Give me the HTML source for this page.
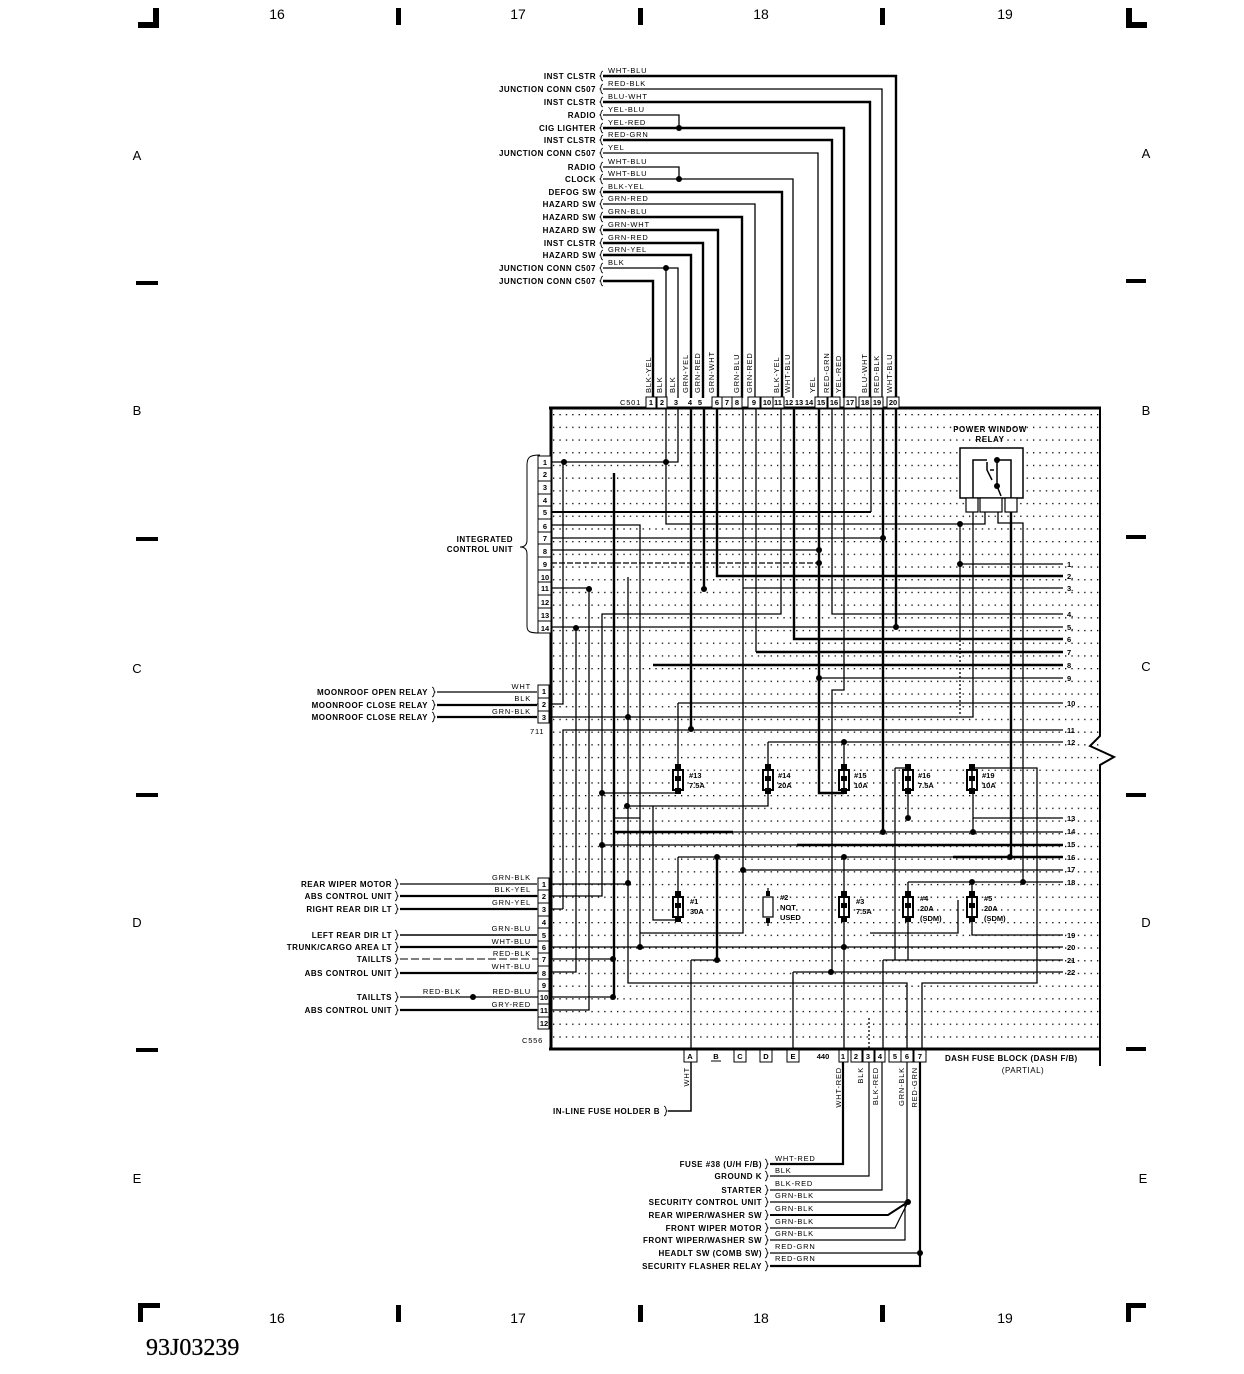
<!DOCTYPE html>
<html><head><meta charset="utf-8"><style>
html,body{margin:0;padding:0;background:#fff;}
svg{display:block}
.l{font-family:"Liberation Sans",sans-serif;font-weight:bold;font-size:8px;letter-spacing:0.5px;fill:#000}
.w{font-family:"Liberation Sans",sans-serif;font-size:7.5px;letter-spacing:0.8px;fill:#000}
.n{font-family:"Liberation Sans",sans-serif;font-weight:bold;font-size:7.5px;fill:#000}
.g{font-family:"Liberation Sans",sans-serif;font-size:14px;fill:#000}
</style></head><body>
<svg width="1244" height="1374" viewBox="0 0 1244 1374" xmlns="http://www.w3.org/2000/svg">
<defs>
<pattern id="dp" x="553" y="414" width="6.4" height="12.7" patternUnits="userSpaceOnUse"><rect width="1.3" height="1.3" fill="#000"/></pattern>
<path id="sq" d="M2,-5 C-1,-4 1,-1 -1,0 C1,1 -1,4 2,5" fill="none" stroke="#000" stroke-width="0.9"/>
<path id="sqb" d="M-2,-5 C1,-4 -1,-1 1,0 C-1,1 1,4 -2,5" fill="none" stroke="#000" stroke-width="0.9"/>
</defs>
<rect width="1244" height="1374" fill="#fff"/>
<rect x="553" y="410" width="546" height="638" fill="url(#dp)"/>

<!-- frame marks -->
<g fill="#000">
<rect x="153" y="8" width="6" height="20"/><rect x="138" y="22" width="21" height="6"/>
<rect x="1126" y="8" width="6" height="20"/><rect x="1126" y="22" width="21" height="6"/>
<rect x="396" y="8" width="5" height="17"/><rect x="638" y="8" width="5" height="17"/><rect x="880" y="8" width="5" height="17"/>
<rect x="138" y="1303" width="22" height="5"/><rect x="138" y="1303" width="5" height="19"/>
<rect x="1126" y="1303" width="20" height="5"/><rect x="1126" y="1303" width="5" height="19"/>
<rect x="396" y="1305" width="5" height="17"/><rect x="638" y="1305" width="5" height="17"/><rect x="880" y="1305" width="5" height="17"/>
<rect x="136" y="281" width="22" height="4"/><rect x="136" y="537" width="22" height="4"/><rect x="136" y="793" width="22" height="4"/><rect x="136" y="1048" width="22" height="4"/>
<rect x="1126" y="279" width="20" height="4"/><rect x="1126" y="535" width="20" height="4"/><rect x="1126" y="793" width="20" height="4"/><rect x="1126" y="1047" width="20" height="4"/>
</g>
<g class="g" text-anchor="middle">
<text x="277" y="19">16</text><text x="518" y="19">17</text><text x="761" y="19">18</text><text x="1005" y="19">19</text>
<text x="277" y="1323">16</text><text x="518" y="1323">17</text><text x="761" y="1323">18</text><text x="1005" y="1323">19</text>
<text x="137" y="160" font-size="13">A</text><text x="137" y="415" font-size="13">B</text><text x="137" y="673" font-size="13">C</text><text x="137" y="927" font-size="13">D</text><text x="137" y="1183" font-size="13">E</text>
<text x="1146" y="158" font-size="13">A</text><text x="1146" y="415" font-size="13">B</text><text x="1146" y="671" font-size="13">C</text><text x="1146" y="927" font-size="13">D</text><text x="1143" y="1183" font-size="13">E</text>
</g>
<text x="146" y="1355" font-family="'Liberation Serif',serif" font-size="24" fill="#000" stroke="#000" stroke-width="0.3">93J03239</text>

<!-- main box -->
<g fill="none" stroke="#000">
<path d="M551 407 V1050 M549 408 H1101 M549 1049 H1101" stroke-width="3"/>
<path d="M1100 408 V736 L1090 746 L1114 757 L1100 765 V1066" stroke-width="2"/>
</g>

<!-- top wires -->
<g fill="none" stroke="#000" stroke-width="2.4">
<path d="M603 76 H896 V398"/>
<path d="M603 102 H870 V398"/>
<path d="M603 128 H844 V398"/>
<path d="M603 140 H832 V398"/>
<path d="M603 192 H782 V398"/>
<path d="M603 217 H742 V398"/>
<path d="M603 230 H718 V398"/>
<path d="M603 243 H703 V398"/>
<path d="M603 255 H691 V398"/>
<path d="M603 281 H653 V398"/>
</g>
<g fill="none" stroke="#000" stroke-width="1.3">
<path d="M603 89 H882 V398"/>
<path d="M603 115 H679 V128"/>
<path d="M603 153 H818 V398"/>
<path d="M603 167 H679 V179"/>
<path d="M603 179 H793 V398"/>
<path d="M603 204 H755 V398"/>
<path d="M603 268 H678 V398 M666 268 V398"/>
</g>
<g fill="#000"><circle cx="679" cy="128" r="3"/><circle cx="679" cy="179" r="3"/><circle cx="666" cy="268" r="3"/></g>
<g>
<use href="#sq" x="601" y="76"/><use href="#sq" x="601" y="89"/><use href="#sq" x="601" y="102"/><use href="#sq" x="601" y="115"/><use href="#sq" x="601" y="128"/><use href="#sq" x="601" y="140"/><use href="#sq" x="601" y="153"/><use href="#sq" x="601" y="167"/><use href="#sq" x="601" y="179"/><use href="#sq" x="601" y="192"/><use href="#sq" x="601" y="204"/><use href="#sq" x="601" y="217"/><use href="#sq" x="601" y="230"/><use href="#sq" x="601" y="243"/><use href="#sq" x="601" y="255"/><use href="#sq" x="601" y="268"/><use href="#sq" x="601" y="281"/>
</g>
<g class="l" text-anchor="end">
<text x="596" y="79">INST CLSTR</text>
<text x="596" y="92">JUNCTION CONN C507</text>
<text x="596" y="105">INST CLSTR</text>
<text x="596" y="118">RADIO</text>
<text x="596" y="131">CIG LIGHTER</text>
<text x="596" y="143">INST CLSTR</text>
<text x="596" y="156">JUNCTION CONN C507</text>
<text x="596" y="170">RADIO</text>
<text x="596" y="182">CLOCK</text>
<text x="596" y="195">DEFOG SW</text>
<text x="596" y="207">HAZARD SW</text>
<text x="596" y="220">HAZARD SW</text>
<text x="596" y="233">HAZARD SW</text>
<text x="596" y="246">INST CLSTR</text>
<text x="596" y="258">HAZARD SW</text>
<text x="596" y="271">JUNCTION CONN C507</text>
<text x="596" y="284">JUNCTION CONN C507</text>
</g>
<g class="w">
<text x="608" y="73">WHT-BLU</text>
<text x="608" y="86">RED-BLK</text>
<text x="608" y="99">BLU-WHT</text>
<text x="608" y="112">YEL-BLU</text>
<text x="608" y="125">YEL-RED</text>
<text x="608" y="137">RED-GRN</text>
<text x="608" y="150">YEL</text>
<text x="608" y="164">WHT-BLU</text>
<text x="608" y="176">WHT-BLU</text>
<text x="608" y="189">BLK-YEL</text>
<text x="608" y="201">GRN-RED</text>
<text x="608" y="214">GRN-BLU</text>
<text x="608" y="227">GRN-WHT</text>
<text x="608" y="240">GRN-RED</text>
<text x="608" y="252">GRN-YEL</text>
<text x="608" y="265">BLK</text>
</g>
<!-- C501 vertical labels -->
<g class="w">
<text transform="translate(651,393) rotate(-90)">BLK-YEL</text>
<text transform="translate(662,393) rotate(-90)">BLK</text>
<text transform="translate(675,393) rotate(-90)">BLK</text>
<text transform="translate(688,393) rotate(-90)">GRN-YEL</text>
<text transform="translate(700,393) rotate(-90)">GRN-RED</text>
<text transform="translate(714,393) rotate(-90)">GRN-WHT</text>
<text transform="translate(739,393) rotate(-90)">GRN-BLU</text>
<text transform="translate(752,393) rotate(-90)">GRN-RED</text>
<text transform="translate(779,393) rotate(-90)">BLK-YEL</text>
<text transform="translate(790,393) rotate(-90)">WHT-BLU</text>
<text transform="translate(815,393) rotate(-90)">YEL</text>
<text transform="translate(829,393) rotate(-90)">RED-GRN</text>
<text transform="translate(841,393) rotate(-90)">YEL-RED</text>
<text transform="translate(867,393) rotate(-90)">BLU-WHT</text>
<text transform="translate(879,393) rotate(-90)">RED-BLK</text>
<text transform="translate(892,393) rotate(-90)">WHT-BLU</text>
</g>
<!-- C501 pin boxes -->
<g fill="#fff" stroke="#000" stroke-width="1">
<rect x="646" y="397" width="10" height="11"/><rect x="657" y="397" width="10" height="11"/>
<rect x="712" y="397" width="10" height="11"/><rect x="722" y="397" width="10" height="11"/><rect x="732" y="397" width="10" height="11"/>
<rect x="748" y="397" width="12" height="11"/><rect x="761" y="397" width="12" height="11"/><rect x="773" y="397" width="11" height="11"/>
<rect x="815" y="397" width="12" height="11"/><rect x="828" y="397" width="12" height="11"/><rect x="844" y="397" width="12" height="11"/><rect x="859" y="397" width="12" height="11"/><rect x="871" y="397" width="12" height="11"/><rect x="887" y="397" width="12" height="11"/>
</g>
<g class="n" text-anchor="middle" font-size="7">
<text x="651" y="405">1</text><text x="662" y="405">2</text><text x="676" y="405">3</text><text x="690" y="405">4</text><text x="700" y="405">5</text><text x="717" y="405">6</text><text x="727" y="405">7</text><text x="737" y="405">8</text><text x="754" y="405">9</text><text x="767" y="405">10</text><text x="778" y="405">11</text><text x="789" y="405">12</text><text x="799" y="405">13</text><text x="809" y="405">14</text><text x="821" y="405">15</text><text x="834" y="405">16</text><text x="850" y="405">17</text><text x="865" y="405">18</text><text x="877" y="405">19</text><text x="893" y="405">20</text>
</g>
<text class="w" x="620" y="405" letter-spacing="0.3">C501</text>

<!-- internal wiring thick -->
<g fill="none" stroke="#000" stroke-width="2.4">
<path d="M691 408 V729"/>
<path d="M704 408 V589"/>
<path d="M717 408 V576 H1063"/>
<path d="M756 652 H1063"/>
<path d="M794 408 V639 H1063"/>
<path d="M819 408 V793 H844"/>
<path d="M883 408 V832"/>
<path d="M896 408 V627"/>
<path d="M614 473 V997"/>
<path d="M1011 512 V857"/>
<path d="M653 665 H1063"/>
<path d="M614 832 H733"/>
<path d="M797 845 H1063"/>
<path d="M953 857 H1063"/>
<path d="M717 857 V960"/>
<path d="M551 512 H871" stroke-width="2"/>
</g>
<g fill="none" stroke="#000" stroke-width="1.3">
<path d="M678 408 V462 H551"/>
<path d="M666 408 V524 H985 V512"/>
<path d="M563 462 V704 H537"/>
<path d="M563 909 V730 H1063"/>
<path d="M537 909 H563"/>
<path d="M743 408 V933 H640"/>
<path d="M743 588 H1063"/>
<path d="M756 408 V652"/>
<path d="M781 408 V614 H602 V896 H537"/>
<path d="M832 408 V614 H1063"/>
<path d="M844 408 V690 H832 V972"/>
<path d="M871 408 V512"/>
<path d="M551 627 H1063"/>
<path d="M551 538 H883"/>
<path d="M551 550 H819"/>
<path d="M551 563 H819" stroke-dasharray="6 2"/>
<path d="M551 588 H589 V1010 H537"/>
<path d="M551 525 H640 V947"/>
<path d="M576 628 V972 H537"/>
<path d="M537 959 H613"/>
<path d="M537 997 H613"/>
<path d="M628 577 V983 H907 V1049"/>
<path d="M922 1049 V983 H1037 V768 H973"/>
<path d="M551 717 H973 V512"/>
<path d="M960 524 V640"/>
<path d="M960 640 V715" stroke-dasharray="2 2"/>
<path d="M960 564 H1063"/>
<path d="M998 512 V523 H1023 V882"/>
<path d="M678 703 H1063"/>
<path d="M678 703 V768 M678 792 V793 H602"/>
<path d="M768 742 H1063 M768 742 V768 M768 792 V806 H627"/>
<path d="M844 742 V768"/>
<path d="M819 678 H1063"/>
<path d="M653 806 V920 H678" />
<path d="M614 818 H640"/>
<path d="M733 832 H1063"/>
<path d="M602 845 H797"/>
<path d="M678 857 H953"/>
<path d="M743 870 H1063"/>
<path d="M908 882 H1063"/>
<path d="M972 882 V893 M908 882 V893"/>
<path d="M973 818 H1063"/>
<path d="M973 792 V832"/>
<path d="M908 792 V818"/>
<path d="M895 768 H908 M895 768 V960 M908 768 V768"/>
<path d="M691 960 H717 M691 960 V1049"/>
<path d="M883 960 H1063 M883 960 V1049"/>
<path d="M908 920 V960"/>
<path d="M972 920 V935 H1063"/>
<path d="M870 933 H958 V900"/>
<path d="M537 947 H1063"/>
<path d="M793 972 H1063 M793 972 V1049"/>
<path d="M869 1018 V1049" stroke-dasharray="2 2"/>
<path d="M844 857 V1049"/>
<path d="M678 857 V893"/>
<path d="M551 884 H628"/>
<path d="M768 888 V893 M768 921 V926"/>
</g>

<!-- power window relay -->
<g fill="none" stroke="#000" stroke-width="1.5">
<rect x="960" y="448" width="63" height="50" fill="#fff"/>
<path d="M973 498 V460 H987 M1011 498 V460 H997 V486 M987 462 V470 L992 480 M990 470 H994 M997 486 L1001 496"/>
<path d="M985 498 V512 M998 498 V512"/>
</g>
<g fill="#fff" stroke="#000" stroke-width="1.2">
<rect x="966" y="498" width="12" height="14"/><rect x="980" y="498" width="22" height="14"/><rect x="1005" y="498" width="12" height="14"/>
</g>
<g class="l" text-anchor="middle" font-size="7.5"><text x="990" y="432">POWER WINDOW</text><text x="990" y="442">RELAY</text></g>

<!-- fuses -->
<g stroke="#000" stroke-width="2" fill="#fff">
<rect x="673" y="770" width="10" height="20"/><rect x="763" y="770" width="10" height="20"/><rect x="839" y="770" width="10" height="20"/><rect x="903" y="770" width="10" height="20"/><rect x="967" y="770" width="10" height="20"/>
<rect x="673" y="897" width="10" height="20"/><rect x="839" y="897" width="10" height="20"/><rect x="903" y="897" width="10" height="20"/><rect x="967" y="897" width="10" height="20"/>
</g>
<rect x="763" y="897" width="10" height="20" fill="#fff" stroke="#000" stroke-width="1.2"/>
<g stroke="#000" stroke-width="1.6">
<path d="M678 768 V792 M768 768 V792 M844 768 V792 M908 768 V792 M972 768 V792"/>
<path d="M678 893 V920 M844 893 V920 M908 893 V920 M972 893 V920"/>
</g>
<g fill="#000">
<rect x="675" y="764" width="6" height="6"/><rect x="675" y="788" width="6" height="6"/><rect x="675" y="776" width="6" height="5"/>
<rect x="765" y="764" width="6" height="6"/><rect x="765" y="788" width="6" height="6"/><rect x="765" y="776" width="6" height="5"/>
<rect x="841" y="764" width="6" height="6"/><rect x="841" y="788" width="6" height="6"/><rect x="841" y="776" width="6" height="5"/>
<rect x="905" y="764" width="6" height="6"/><rect x="905" y="788" width="6" height="6"/><rect x="905" y="776" width="6" height="5"/>
<rect x="969" y="764" width="6" height="6"/><rect x="969" y="788" width="6" height="6"/><rect x="969" y="776" width="6" height="5"/>
<rect x="675" y="891" width="6" height="6"/><rect x="675" y="916" width="6" height="6"/><rect x="675" y="903" width="6" height="5"/>
<rect x="766" y="891" width="4" height="5"/><rect x="766" y="918" width="4" height="5"/>
<rect x="841" y="891" width="6" height="6"/><rect x="841" y="916" width="6" height="6"/><rect x="841" y="903" width="6" height="5"/>
<rect x="905" y="891" width="6" height="6"/><rect x="905" y="916" width="6" height="6"/><rect x="905" y="903" width="6" height="5"/>
<rect x="969" y="891" width="6" height="6"/><rect x="969" y="916" width="6" height="6"/><rect x="969" y="903" width="6" height="5"/>
</g>
<g class="n">
<text x="689" y="778">#13</text><text x="689" y="788">7.5A</text>
<text x="778" y="778">#14</text><text x="778" y="788">20A</text>
<text x="854" y="778">#15</text><text x="854" y="788">10A</text>
<text x="918" y="778">#16</text><text x="918" y="788">7.5A</text>
<text x="982" y="778">#19</text><text x="982" y="788">10A</text>
<text x="690" y="904">#1</text><text x="690" y="914">30A</text>
<text x="780" y="900">#2</text><text x="780" y="910">NOT</text><text x="780" y="920">USED</text>
<text x="856" y="904">#3</text><text x="856" y="914">7.5A</text>
<text x="920" y="901">#4</text><text x="920" y="911">20A</text><text x="920" y="921">(SDM)</text>
<text x="984" y="901">#5</text><text x="984" y="911">20A</text><text x="984" y="921">(SDM)</text>
</g>

<!-- junction dots -->
<g fill="#000">
<circle cx="564" cy="462" r="3"/><circle cx="666" cy="462" r="3"/><circle cx="691" cy="729" r="3"/><circle cx="704" cy="589" r="3"/>
<circle cx="819" cy="550" r="3"/><circle cx="819" cy="563" r="3"/><circle cx="819" cy="678" r="3"/><circle cx="883" cy="538" r="3"/>
<circle cx="896" cy="627" r="3"/><circle cx="576" cy="628" r="3"/><circle cx="589" cy="589" r="3"/><circle cx="960" cy="524" r="3"/>
<circle cx="960" cy="564" r="3"/><circle cx="602" cy="793" r="3"/><circle cx="602" cy="845" r="3"/><circle cx="628" cy="717" r="3"/>
<circle cx="627" cy="806" r="3"/><circle cx="628" cy="883" r="3"/><circle cx="844" cy="742" r="3"/><circle cx="883" cy="832" r="3"/>
<circle cx="973" cy="832" r="3"/><circle cx="717" cy="857" r="3"/><circle cx="844" cy="857" r="3"/><circle cx="1010" cy="857" r="3"/>
<circle cx="743" cy="870" r="3"/><circle cx="972" cy="882" r="3"/><circle cx="1023" cy="882" r="3"/><circle cx="908" cy="818" r="3"/>
<circle cx="640" cy="947" r="3"/><circle cx="844" cy="947" r="3"/><circle cx="613" cy="959" r="3"/><circle cx="613" cy="997" r="3"/>
<circle cx="717" cy="960" r="3"/><circle cx="831" cy="972" r="3"/>
<circle cx="997" cy="460" r="3"/><circle cx="997" cy="486" r="3"/>
<circle cx="473" cy="997" r="3"/><circle cx="908" cy="1202" r="3"/><circle cx="920" cy="1253" r="3"/>
</g>

<!-- right side numbers -->
<g class="n" font-size="8">
<text x="1067" y="567">1.</text><text x="1067" y="579">2.</text><text x="1067" y="591">3.</text><text x="1067" y="617">4.</text><text x="1067" y="630">5.</text><text x="1067" y="642">6</text><text x="1067" y="655">7</text><text x="1067" y="668">8</text><text x="1067" y="681">9</text><text x="1067" y="706">10</text><text x="1067" y="733">11</text><text x="1067" y="745">12</text>
<text x="1067" y="821">13</text><text x="1067" y="834">14</text><text x="1067" y="847">15</text><text x="1067" y="860">16</text><text x="1067" y="872">17</text><text x="1067" y="885">18</text><text x="1067" y="938">19</text><text x="1067" y="950">20</text><text x="1067" y="963">21</text><text x="1067" y="975">22</text>
</g>

<!-- ICU pins -->
<g fill="#fff" stroke="#000" stroke-width="1">
<rect x="538" y="456" width="13" height="12"/><rect x="538" y="468" width="13" height="13"/><rect x="538" y="481" width="13" height="13"/><rect x="538" y="494" width="13" height="12"/><rect x="538" y="506" width="13" height="13"/><rect x="538" y="519" width="13" height="13"/><rect x="538" y="532" width="13" height="12"/><rect x="538" y="544" width="13" height="13"/><rect x="538" y="557" width="13" height="13"/><rect x="538" y="570" width="13" height="12"/><rect x="538" y="582" width="13" height="13"/><rect x="538" y="595" width="13" height="13"/><rect x="538" y="608" width="13" height="13"/><rect x="538" y="621" width="13" height="12"/>
</g>
<g class="n" text-anchor="middle" font-size="7">
<text x="545" y="465">1</text><text x="545" y="477">2</text><text x="545" y="490">3</text><text x="545" y="503">4</text><text x="545" y="515">5</text><text x="545" y="529">6</text><text x="545" y="541">7</text><text x="545" y="554">8</text><text x="545" y="567">9</text><text x="545" y="580">10</text><text x="545" y="591">11</text><text x="545" y="605">12</text><text x="545" y="618">13</text><text x="545" y="631">14</text>
</g>
<path d="M540 455 C530 455 527 457 527 465 V540 C527 545 524 547 520 547 C524 547 527 549 527 554 V626 C527 632 530 633 540 633" fill="none" stroke="#000" stroke-width="1"/>
<g class="l" text-anchor="end"><text x="513" y="542">INTEGRATED</text><text x="513" y="552">CONTROL UNIT</text></g>

<!-- moonroof connector -->
<g fill="none" stroke="#000">
<path d="M437 692 H537" stroke-width="1.2"/>
<path d="M437 705 H537" stroke-width="2.2"/>
<path d="M437 717 H537" stroke-width="2.2"/>
</g>
<use href="#sqb" x="434" y="692"/><use href="#sqb" x="434" y="705"/><use href="#sqb" x="434" y="717"/>
<g fill="#fff" stroke="#000" stroke-width="1"><rect x="538" y="685" width="11" height="13"/><rect x="538" y="698" width="11" height="13"/><rect x="538" y="711" width="11" height="12"/></g>
<g class="n" text-anchor="middle" font-size="7"><text x="544" y="694">1</text><text x="544" y="707">2</text><text x="544" y="720">3</text></g>
<g class="l" text-anchor="end">
<text x="428" y="695">MOONROOF OPEN RELAY</text><text x="428" y="708">MOONROOF CLOSE RELAY</text><text x="428" y="720">MOONROOF CLOSE RELAY</text>
</g>
<g class="w" text-anchor="end" letter-spacing="0.5"><text x="531" y="689">WHT</text><text x="531" y="701">BLK</text><text x="531" y="714">GRN-BLK</text></g>
<text class="w" x="530" y="734" letter-spacing="0.3">711</text>

<!-- C556 -->
<g fill="none" stroke="#000">
<path d="M400 884 H537" stroke-width="1.2"/>
<path d="M400 896 H537" stroke-width="2.2"/>
<path d="M400 909 H537" stroke-width="2.2"/>
<path d="M400 935 H537" stroke-width="1.6"/>
<path d="M400 947 H537" stroke-width="2.2"/>
<path d="M400 959 H537" stroke-width="1.1" stroke-dasharray="8 3"/>
<path d="M400 973 H537" stroke-width="2.2"/>
<path d="M400 997 H537" stroke-width="1.2"/>
<path d="M400 1010 H537" stroke-width="2.2"/>
</g>
<use href="#sqb" x="397" y="884"/><use href="#sqb" x="397" y="896"/><use href="#sqb" x="397" y="909"/><use href="#sqb" x="397" y="935"/><use href="#sqb" x="397" y="947"/><use href="#sqb" x="397" y="959"/><use href="#sqb" x="397" y="973"/><use href="#sqb" x="397" y="997"/><use href="#sqb" x="397" y="1010"/>
<g fill="#fff" stroke="#000" stroke-width="1">
<rect x="538" y="878" width="11" height="12"/><rect x="538" y="890" width="11" height="13"/><rect x="538" y="903" width="11" height="13"/><rect x="538" y="916" width="11" height="12"/><rect x="538" y="928" width="11" height="13"/><rect x="538" y="941" width="11" height="12"/><rect x="538" y="953" width="11" height="13"/><rect x="538" y="966" width="11" height="13"/><rect x="538" y="979" width="11" height="12"/><rect x="538" y="991" width="11" height="13"/><rect x="538" y="1004" width="11" height="13"/><rect x="538" y="1017" width="11" height="12"/>
</g>
<g class="n" text-anchor="middle" font-size="7">
<text x="544" y="887">1</text><text x="544" y="899">2</text><text x="544" y="912">3</text><text x="544" y="925">4</text><text x="544" y="938">5</text><text x="544" y="950">6</text><text x="544" y="962">7</text><text x="544" y="976">8</text><text x="544" y="988">9</text><text x="544" y="1000">10</text><text x="544" y="1013">11</text><text x="544" y="1026">12</text>
</g>
<g class="l" text-anchor="end">
<text x="392" y="887">REAR WIPER MOTOR</text>
<text x="392" y="899">ABS CONTROL UNIT</text>
<text x="392" y="912">RIGHT REAR DIR LT</text>
<text x="392" y="938">LEFT REAR DIR LT</text>
<text x="392" y="950">TRUNK/CARGO AREA LT</text>
<text x="392" y="962">TAILLTS</text>
<text x="392" y="976">ABS CONTROL UNIT</text>
<text x="392" y="1000">TAILLTS</text>
<text x="392" y="1013">ABS CONTROL UNIT</text>
</g>
<g class="w" text-anchor="end" letter-spacing="0.5">
<text x="531" y="880">GRN-BLK</text><text x="531" y="892">BLK-YEL</text><text x="531" y="905">GRN-YEL</text><text x="531" y="931">GRN-BLU</text><text x="531" y="944">WHT-BLU</text><text x="531" y="956">RED-BLK</text><text x="531" y="969">WHT-BLU</text><text x="531" y="994">RED-BLU</text><text x="531" y="1007">GRY-RED</text>
<text x="461" y="994">RED-BLK</text>
</g>
<text class="w" x="522" y="1043" letter-spacing="0.3">C556</text>

<!-- dash F/B bottom connector -->
<g fill="#fff" stroke="#000" stroke-width="1">
<rect x="684" y="1050" width="13" height="12"/><rect x="734" y="1050" width="12" height="12"/><rect x="760" y="1050" width="12" height="12"/><rect x="787" y="1050" width="12" height="12"/>
<rect x="839" y="1050" width="9" height="12"/><rect x="851" y="1050" width="11" height="12"/><rect x="863" y="1050" width="11" height="12"/><rect x="875" y="1050" width="10" height="12"/><rect x="889" y="1050" width="12" height="12"/><rect x="901" y="1050" width="12" height="12"/><rect x="914" y="1050" width="12" height="12"/>
</g>
<path d="M711 1061 H721" stroke="#000" stroke-width="1"/>
<g class="n" text-anchor="middle" font-size="7">
<text x="690" y="1059">A</text><text x="716" y="1059">B</text><text x="740" y="1059">C</text><text x="766" y="1059">D</text><text x="793" y="1059">E</text><text x="823" y="1059">440</text>
<text x="843" y="1059">1</text><text x="856" y="1059">2</text><text x="868" y="1059">3</text><text x="880" y="1059">4</text><text x="895" y="1059">5</text><text x="907" y="1059">6</text><text x="920" y="1059">7</text>
</g>
<g class="l"><text x="945" y="1061" letter-spacing="0.4">DASH FUSE BLOCK (DASH F/B)</text><text x="1023" y="1073" text-anchor="middle" font-weight="normal">(PARTIAL)</text></g>
<g fill="none" stroke="#000">
<path d="M691 1062 V1111 H668" stroke-width="1.5"/>
<path d="M843 1062 V1164 H770" stroke-width="2.2"/>
<path d="M869 1062 V1176 H770" stroke-width="1.2"/>
<path d="M882 1062 V1190 H770" stroke-width="1.2"/>
<path d="M907 1062 V1202 H770" stroke-width="1.2"/>
<path d="M770 1215 H888 L908 1202" stroke-width="2"/>
<path d="M770 1228 H895 L908 1202" stroke-width="1.2"/>
<path d="M770 1240 H905 V1202" stroke-width="1.2"/>
<path d="M770 1253 H920" stroke-width="1.2"/>
<path d="M920 1062 V1266 H770" stroke-width="2.2"/>
</g>
<use href="#sqb" x="666" y="1111"/>
<use href="#sqb" x="767" y="1164"/><use href="#sqb" x="767" y="1176"/><use href="#sqb" x="767" y="1190"/><use href="#sqb" x="767" y="1202"/><use href="#sqb" x="767" y="1215"/><use href="#sqb" x="767" y="1228"/><use href="#sqb" x="767" y="1240"/><use href="#sqb" x="767" y="1253"/><use href="#sqb" x="767" y="1266"/>
<g class="w">
<text transform="translate(689,1067) rotate(-90)" text-anchor="end">WHT</text>
<text transform="translate(841,1067) rotate(-90)" text-anchor="end">WHT-RED</text>
<text transform="translate(863,1067) rotate(-90)" text-anchor="end">BLK</text>
<text transform="translate(878,1067) rotate(-90)" text-anchor="end">BLK-RED</text>
<text transform="translate(904,1067) rotate(-90)" text-anchor="end">GRN-BLK</text>
<text transform="translate(917,1067) rotate(-90)" text-anchor="end">RED-GRN</text>
</g>
<text class="l" x="660" y="1114" text-anchor="end" font-weight="normal">IN-LINE FUSE HOLDER B</text>
<g class="l" text-anchor="end">
<text x="762" y="1167">FUSE #38 (U/H F/B)</text>
<text x="762" y="1179">GROUND K</text>
<text x="762" y="1193">STARTER</text>
<text x="762" y="1205">SECURITY CONTROL UNIT</text>
<text x="762" y="1218">REAR WIPER/WASHER SW</text>
<text x="762" y="1231">FRONT WIPER MOTOR</text>
<text x="762" y="1243">FRONT WIPER/WASHER SW</text>
<text x="762" y="1256">HEADLT SW (COMB SW)</text>
<text x="762" y="1269">SECURITY FLASHER RELAY</text>
</g>
<g class="w" letter-spacing="0.5">
<text x="775" y="1161">WHT-RED</text>
<text x="775" y="1173">BLK</text>
<text x="775" y="1186">BLK-RED</text>
<text x="775" y="1198">GRN-BLK</text>
<text x="775" y="1211">GRN-BLK</text>
<text x="775" y="1224">GRN-BLK</text>
<text x="775" y="1236">GRN-BLK</text>
<text x="775" y="1249">RED-GRN</text>
<text x="775" y="1261">RED-GRN</text>
</g>
</svg>
</body></html>
